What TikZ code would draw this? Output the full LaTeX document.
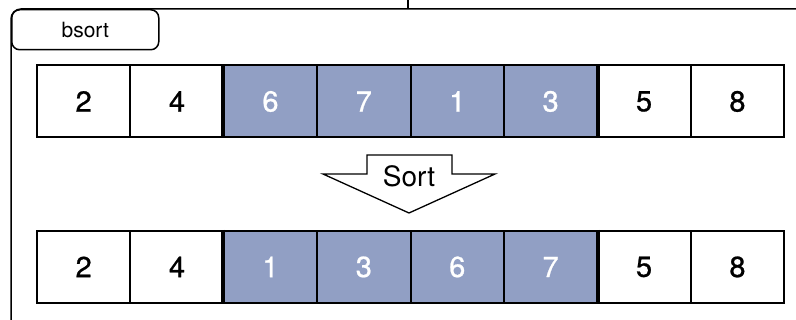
\documentclass[tikz,border=0pt]{standalone}
\usepackage{fontspec}
\setmainfont{TeX Gyre Heros}
\newfontface\digitface{TeX Gyre Heros}[FakeBold=0.8]
\definecolor{cellblue}{RGB}{145,159,196}
\begin{document}
\begin{tikzpicture}[x=1pt,y=-1pt,
  cell/.style={draw=black,line width=1.9pt,minimum width=93.4pt,minimum height=72pt,inner sep=0pt,anchor=north west,font=\digitface\fontsize{29}{30}\selectfont,text=black},
  hcell/.style={cell,fill=cellblue,text=white},
  sep/.style={line width=4.2pt},
  frame/.style={draw=black,line width=1.5pt,rounded corners=10pt}]
\useasboundingbox (0,0) rectangle (796,320);
\clip (0,0) rectangle (796,320);
% outer frame
\draw[frame] (11,330) |- (810,9);
\coordinate (top) at (408,0);
\coordinate (topin) at (408,9);
\draw[line width=2.4pt] (top) -- (topin);
% tab
\node[draw,line width=1.5pt,rounded corners=8pt,minimum width=147pt,minimum height=40pt,anchor=north west,inner sep=0pt,font=\fontsize{21}{22}\selectfont] (tab) at (11,9) {bsort};
% top row
\foreach \v/\s [count=\i from 0] in {2/cell,4/cell,6/hcell,7/hcell,1/hcell,3/hcell,5/cell,8/cell}{
  \node[\s] (a\i) at ({36+93.4*\i},64.5) {\v};
}
\draw[sep] (a2.north west) -- (a2.south west);
\draw[sep] (a5.north east) -- (a5.south east);
% arrow
\draw[line width=1.3pt,fill=white] (367,155) -- (452,155) -- (452,174) -- (495,174) -- (409,213) -- (323,174) -- (367,174) -- cycle;
\node[font=\fontsize{28}{30}\selectfont,inner sep=0pt] (sort) at (409,176) {Sort};
% bottom row
\foreach \v/\s [count=\i from 0] in {2/cell,4/cell,1/hcell,3/hcell,6/hcell,7/hcell,5/cell,8/cell}{
  \node[\s] (b\i) at ({36+93.4*\i},230) {\v};
}
\draw[sep] (b2.north west) -- (b2.south west);
\draw[sep] (b5.north east) -- (b5.south east);
\end{tikzpicture}
\end{document}
